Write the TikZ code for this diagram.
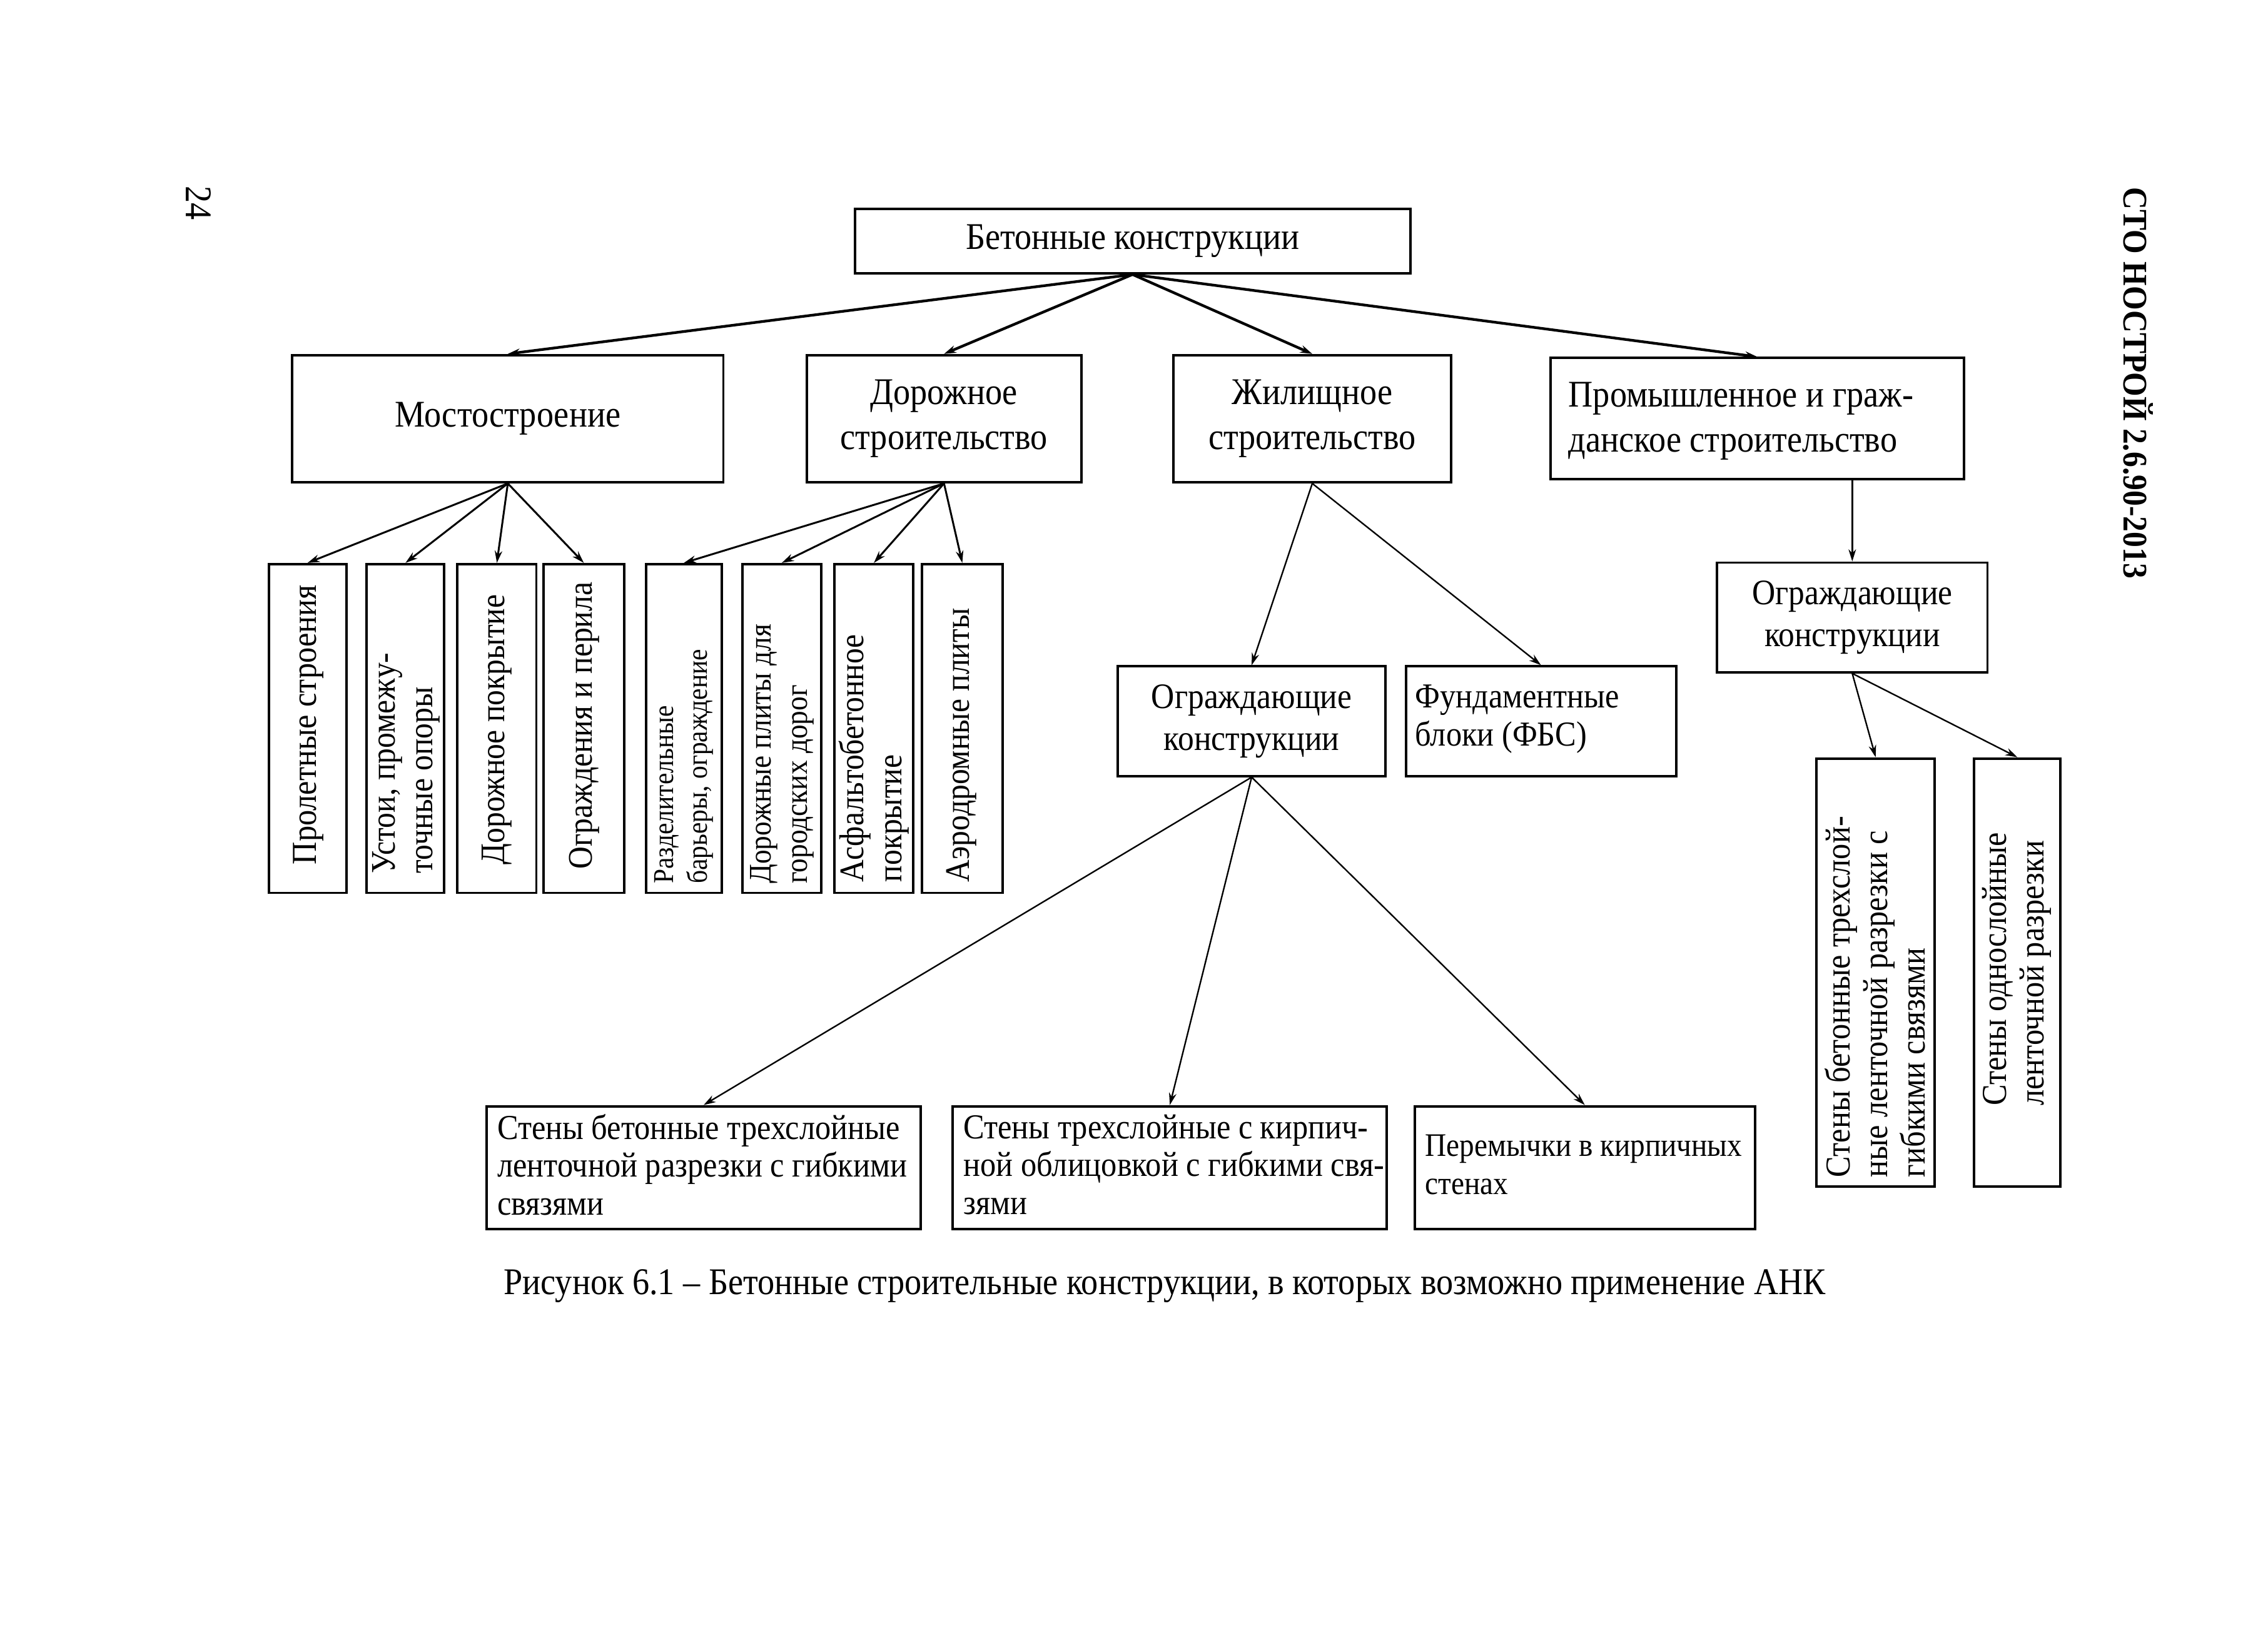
\documentclass[tikz,border=0pt]{standalone}
\usepackage{fontspec}
\setmainfont{Liberation Serif}[FakeStretch=0.9]
\usetikzlibrary{fit,arrows.meta}
\tikzset{
  box/.style={draw, line width=0.9pt, inner sep=0pt},
  arr/.style={-{Stealth[length=4.5pt,width=2.8pt]}, line width=0.7pt},
  arrthick/.style={arr, line width=1pt},
  arrthin/.style={arr, line width=0.55pt},
  lbl/.style={inner sep=0pt, align=center, font=\fontsize{14}{16.8}\selectfont},
  lbll/.style={inner sep=0pt, align=left, anchor=west, font=\fontsize{14}{16.8}\selectfont},
  vlbl/.style={inner sep=0pt, align=left, rotate=90, anchor=west, font=\fontsize{12.8}{14}\selectfont},
  mid/.style={font=\fontsize{13.3}{15.5}\selectfont},
  small/.style={font=\fontsize{13}{14}\selectfont},
}
\begin{document}
\begin{tikzpicture}[x=0.5425pt,y=-0.5425pt]
\useasboundingbox (0,0) rectangle (1552,1112);
\fill[white] (0,0) rectangle (1552,1112);

% page number and header
\node[inner sep=0pt, rotate=-90, font=\fontsize{14}{16}\selectfont] (pg) at (136,139) {24};
\node[inner sep=0pt, rotate=-90, font=\fontsize{12.8}{15}\selectfont\bfseries] (hdr) at (1463,262) {СТО НОСТРОЙ 2.6.90-2013};

% top
\node[box, fit={(585,143) (965,187)}] (top) {};
\node[lbl] (topt) at (top.center) {Бетонные конструкции};

% level 2
\node[box, fit={(200,243) (495,330)}] (most) {};
\node[lbl] (mostt) at (most.center) {Мостостроение};
\node[box, fit={(552,243) (740,330)}] (dor) {};
\node[lbl] (dort) at (dor.center) {Дорожное\\строительство};
\node[box, fit={(803,243) (993,330)}] (zhil) {};
\node[lbl] (zhilt) at (zhil.center) {Жилищное\\строительство};
\node[box, fit={(1061,245) (1344,328)}] (prom) {};
\node[lbll] (promt) at (1073,288) {Промышленное и граж-\\данское строительство};

% level 3 vertical boxes
\node[box, fit={(184,386) (237,611)}] (v1) {};
\node[vlbl, font=\fontsize{13}{14}\selectfont] (v1t) at (211,592) {Пролетные строения};
\node[box, fit={(251,386) (304,611)}] (v2) {};
\node[vlbl] (v2t) at (278,598) {Устои, промежу-\\точные опоры};
\node[box, fit={(313,386) (367,611)}] (v3) {};
\node[vlbl] (v3t) at (340,592) {Дорожное покрытие};
\node[box, fit={(372,386) (427,611)}] (v4) {};
\node[vlbl] (v4t) at (400,595) {Ограждения и перила};
\node[box, fit={(442,386) (494,611)}] (v5) {};
\node[vlbl, font=\fontsize{10.7}{12.5}\selectfont] (v5t) at (468,605) {Разделительные\\барьеры, ограждение};
\node[box, fit={(508,386) (562,611)}] (v6) {};
\node[vlbl, font=\fontsize{11.7}{13.5}\selectfont] (v6t) at (535,605) {Дорожные плиты для\\городских дорог};
\node[box, fit={(571,386) (625,611)}] (v7) {};
\node[vlbl] (v7t) at (598,604) {Асфальтобетонное\\покрытие};
\node[box, fit={(631,386) (686,611)}] (v8) {};
\node[vlbl] (v8t) at (658,604) {Аэродромные плиты};

% housing children
\node[box, fit={(765,456) (948,531)}] (ogm) {};
\node[lbl, mid] (ogmt) at (ogm.center) {Ограждающие\\конструкции};
\node[box, fit={(962,456) (1147,531)}] (fbs) {};
\node[lbll, small] (fbst) at (968,492) {Фундаментные\\блоки (ФБС)};

% industrial children
\node[box, fit={(1175,385) (1360,460)}] (ogr) {};
\node[lbl, mid] (ogrt) at (ogr.center) {Ограждающие\\конструкции};
\node[box, fit={(1243,519) (1324,812)}] (r1) {};
\node[vlbl, font=\fontsize{13}{14}\selectfont] (r1t) at (1283,806) {Стены бетонные трехслой-\\ные ленточной разрезки с\\гибкими связями};
\node[box, fit={(1351,519) (1410,812)}] (r2) {};
\node[vlbl, font=\fontsize{13}{14}\selectfont] (r2t) at (1380,757) {Стены однослойные\\ленточной разрезки};

% bottom row
\node[box, fit={(333,757) (630,841)}] (b1) {};
\node[lbll, small] (b1t) at (340,797) {Стены бетонные трехслойные\\ленточной разрезки с гибкими\\связями};
\node[box, fit={(652,757) (949,841)}] (b2) {};
\node[lbll, small] (b2t) at (659,797) {Стены трехслойные с кирпич-\\ной облицовкой с гибкими свя-\\зями};
\node[box, fit={(968,757) (1201,841)}] (b3) {};
\node[lbll, font=\fontsize{12.2}{14}\selectfont] (b3t) at (975,797) {Перемычки в кирпичных\\стенах};

% caption
\node[lbl] (cap) at (797,880) {Рисунок 6.1 – Бетонные строительные конструкции, в которых возможно применение АНК};

% connectors
\foreach \c in {most,dor,zhil,prom} \draw[arrthick] (top.south) -- (\c.north);
\foreach \c in {v1,v2,v3,v4} \draw[arr] (most.south) -- (\c.north);
\foreach \c in {v5,v6,v7,v8} \draw[arr] (dor.south) -- (\c.north);
\foreach \c in {ogm,fbs} \draw[arrthin] (zhil.south) -- (\c.north);
\draw[arrthin] (ogr.north |- prom.south) -- (ogr.north);
\foreach \c in {r1,r2} \draw[arrthin] (ogr.south) -- (\c.north);
\foreach \c in {b1,b2,b3} \draw[arrthin] (ogm.south) -- (\c.north);
\end{tikzpicture}
\end{document}
